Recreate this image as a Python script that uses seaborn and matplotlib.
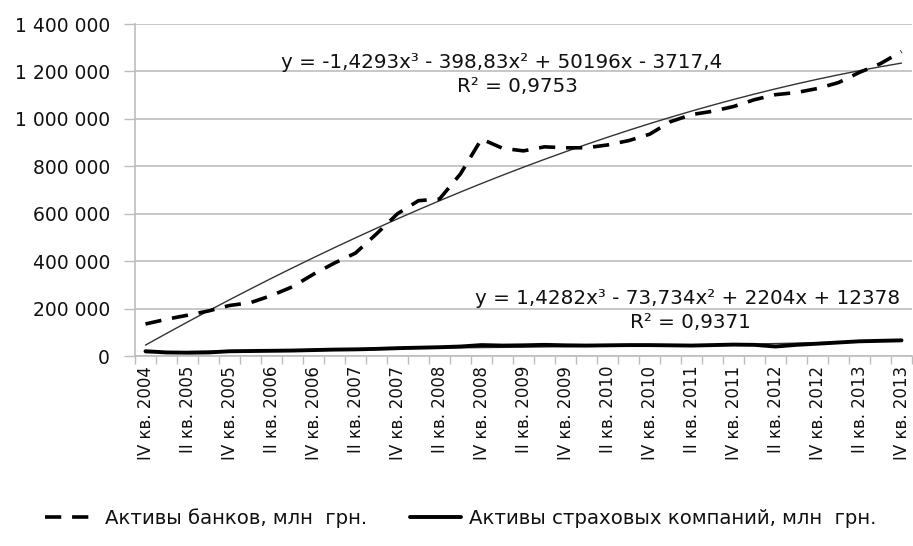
import numpy as np
import pandas as pd
import matplotlib
matplotlib.use("Agg")
import matplotlib.pyplot as plt
import seaborn as sns
from matplotlib.ticker import FuncFormatter, FixedLocator

# ---- data -------------------------------------------------------------
quarter_labels = (["IV кв. 2004"] +
                  [f"{q} кв. {y}" for y in range(2005, 2014) for q in ["I", "II", "III", "IV"]])

banks = [135000, 155000, 172000, 190000, 213000, 225000, 255000, 292000, 345000,
         392000, 434000, 515000, 600000, 655000, 662000, 768000, 915000,
         876000, 865000, 882000, 878000, 878000, 890000, 908000, 935000,
         988000, 1018000, 1032000, 1052000, 1081000, 1102000, 1111000, 1128000,
         1153000, 1196000, 1233000, 1284000]

insurance = [20000, 15000, 14000, 15000, 20000, 21000, 22000, 23000, 25000,
             27000, 28000, 30000, 33000, 35000, 37000, 40000, 46000,
             44000, 45000, 47000, 45000, 44000, 45000, 46000, 46000,
             45000, 44000, 46000, 48000, 47000, 40000, 47000, 52000,
             57000, 62000, 64000, 66000]

# trend line coefficients as shown on the chart (x = 1..37)
bank_trend_coef = [-1.4293, -398.83, 50196, -3717.4]
ins_trend_coef = [1.4282, -73.734, 2204, 12378]

bank_eq = "y = -1,4293x³ - 398,83x² + 50196x - 3717,4"
bank_r2 = "R² = 0,9753"
ins_eq = "y = 1,4282x³ - 73,734x² + 2204x + 12378"
ins_r2 = "R² = 0,9371"

y_ticks = [0, 200000, 400000, 600000, 800000, 1000000, 1200000, 1400000]
label_banks = "Активы банков, млн  грн."
label_ins = "Активы страховых компаний, млн  грн."

# ---- figure -----------------------------------------------------------
sns.set_theme(style="white")
plt.rcParams["font.family"] = ["DejaVu Sans"]

fig = plt.figure(figsize=(9.13, 5.46), dpi=100)
ax = fig.add_axes([135 / 913, 1 - 356 / 546, 777 / 913, (356 - 24) / 546])

n = len(banks)
idx = np.arange(n)
df = pd.DataFrame({"i": idx, "banks": banks, "ins": insurance})
xt = idx + 1
df["bank_trend"] = np.polyval(bank_trend_coef, xt)
df["ins_trend"] = np.polyval(ins_trend_coef, xt)

sns.lineplot(data=df, x="i", y="bank_trend", ax=ax, color="#333333", lw=1.0, zorder=3)
sns.lineplot(data=df, x="i", y="ins_trend", ax=ax, color="#333333", lw=1.0, zorder=3)
sns.lineplot(data=df, x="i", y="banks", ax=ax, color="black", lw=2.6,
             zorder=4, label=label_banks)
ax.lines[-1].set_dashes([4.5, 3.0])
sns.lineplot(data=df, x="i", y="ins", ax=ax, color="black", lw=2.8, zorder=4, label=label_ins)

ax.set_xlim(-0.5, n - 0.5)
ax.set_ylim(0, 1400000)
ax.set_xlabel("")
ax.set_ylabel("")

# y axis
ax.yaxis.set_major_locator(FixedLocator(y_ticks))
ax.yaxis.set_major_formatter(FuncFormatter(lambda v, p: f"{int(v):,}".replace(",", " ")))
ax.grid(axis="y", color="#bdbdbd", lw=1.2)
ax.grid(axis="x", visible=False)
ax.tick_params(axis="y", length=8, width=1, color="#bdbdbd", pad=10, labelsize=13.5,
               labelcolor="#111111", left=True)

# x axis
ax.set_xticks(idx[::2])
ax.set_xticklabels([quarter_labels[i] for i in idx[::2]], rotation=90, fontsize=12,
                   color="#111111")
ax.set_xticks(np.arange(-0.5, n, 1.0), minor=True)
ax.tick_params(axis="x", which="major", length=0, pad=7)
ax.tick_params(axis="x", which="minor", length=6, width=1, color="#bdbdbd", bottom=True)

for s in ["top", "right"]:
    ax.spines[s].set_visible(False)
for s in ["left", "bottom"]:
    ax.spines[s].set_color("#bdbdbd")
    ax.spines[s].set_linewidth(1.2)

# trend equations
tkw = dict(transform=fig.transFigure, ha="center", va="center", fontsize=14.3,
           color="#111111")
ax.text(502 / 913, 1 - 63 / 546, bank_eq, **tkw)
ax.text(517 / 913, 1 - 87 / 546, bank_r2, **tkw)
ax.text(688 / 913, 1 - 298 / 546, ins_eq, **tkw)
ax.text(690 / 913, 1 - 323 / 546, ins_r2, **tkw)

# legend
ax.legend_.remove()
handles, labels = ax.get_legend_handles_labels()
fig.legend(handles, labels, loc="center", bbox_to_anchor=(0.505, 1 - 518 / 546), ncol=2,
           frameon=False, fontsize=14.2, handlelength=2.6, handletextpad=0.4,
           columnspacing=2.2, labelcolor="#111111")

fig.savefig("out.png", dpi=100, facecolor="white")
